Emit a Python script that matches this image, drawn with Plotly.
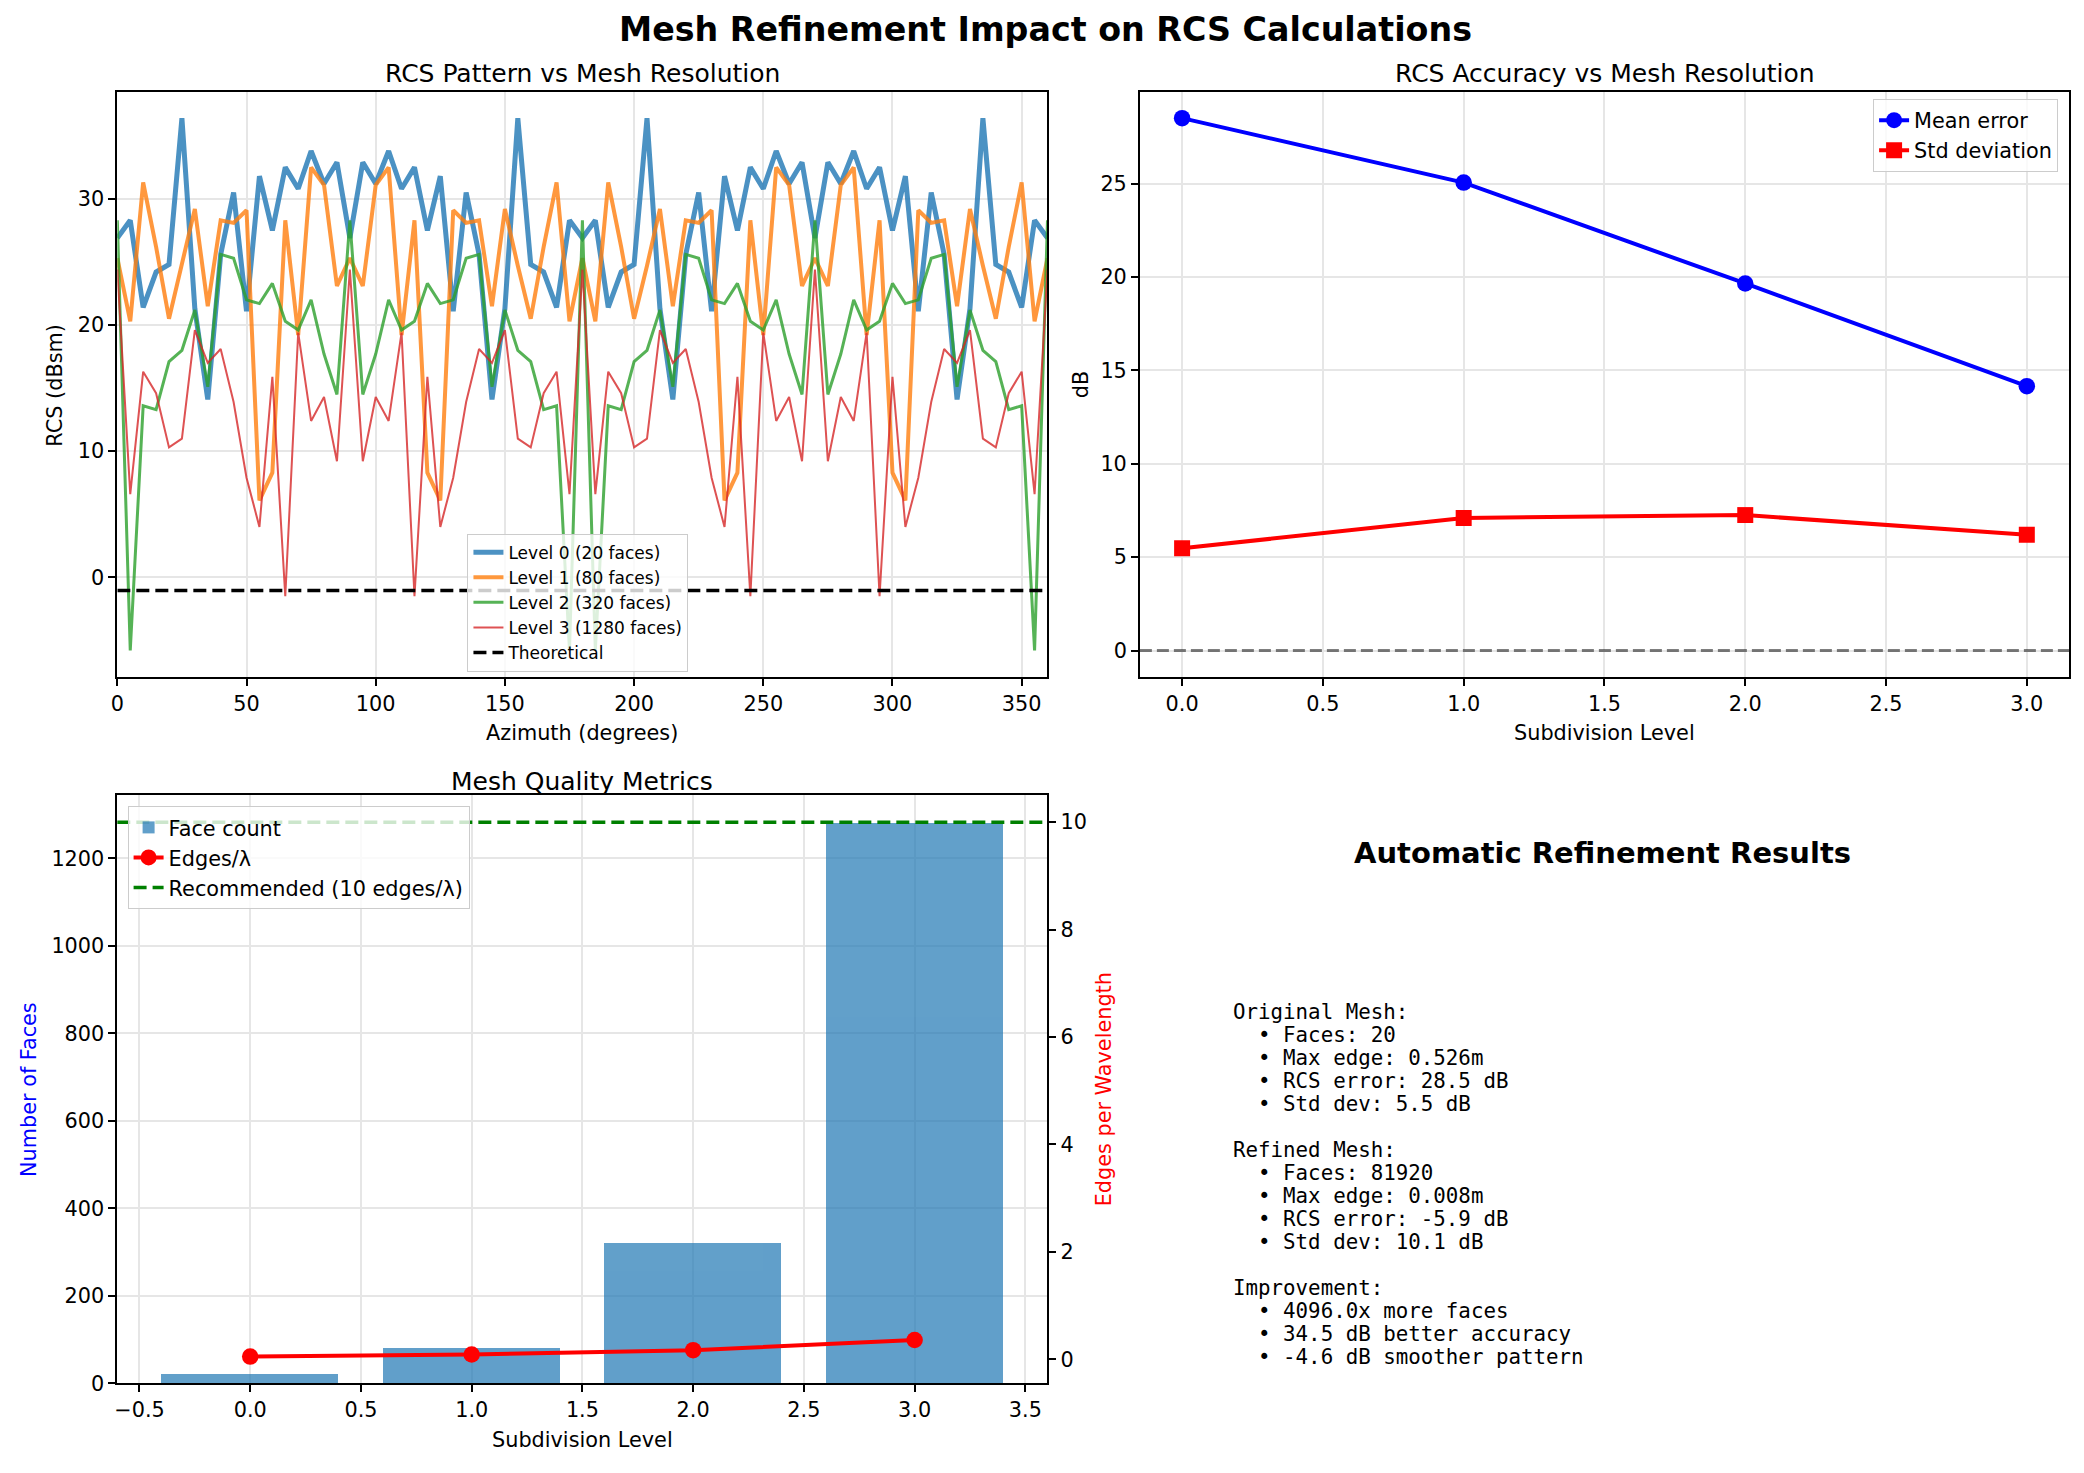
import plotly.graph_objects as go

# ---------------- data ----------------
azimuth = list(range(0, 361, 5))

rcs_level0 = [26.9, 28.3, 21.4, 24.2, 24.8, 36.4, 21.3, 14.1, 25.6, 30.5, 21.1, 31.8, 27.5, 32.5, 30.8, 33.8, 31.2, 32.9, 26.9,
              32.9, 31.2, 33.8, 30.8, 32.5, 27.5, 31.8, 21.1, 30.5, 25.6, 14.1, 21.3, 36.4, 24.8, 24.2, 21.4, 28.3, 26.9,
              28.3, 21.4, 24.2, 24.8, 36.4, 21.3, 14.1, 25.6, 30.5, 21.1, 31.8, 27.5, 32.5, 30.8, 33.8, 31.2, 32.9, 26.9,
              32.9, 31.2, 33.8, 30.8, 32.5, 27.5, 31.8, 21.1, 30.5, 25.6, 14.1, 21.3, 36.4, 24.8, 24.2, 21.4, 28.3, 26.9]
rcs_level1 = [25.3, 20.3, 31.3, 26.2, 20.5, 24.7, 29.2, 21.5, 28.3, 28.1, 29.1, 6.1, 8.3, 28.3, 19.2, 32.5, 31.1, 23.1, 25.3,
              23.1, 31.1, 32.5, 19.2, 28.3, 8.3, 6.1, 29.1, 28.1, 28.3, 21.5, 29.2, 24.7, 20.5, 26.2, 31.3, 20.3, 25.3,
              20.3, 31.3, 26.2, 20.5, 24.7, 29.2, 21.5, 28.3, 28.1, 29.1, 6.1, 8.3, 28.3, 19.2, 32.5, 31.1, 23.1, 25.3,
              23.1, 31.1, 32.5, 19.2, 28.3, 8.3, 6.1, 29.1, 28.1, 28.3, 21.5, 29.2, 24.7, 20.5, 26.2, 31.3, 20.3, 25.3]
rcs_level2 = [28.3, -5.8, 13.6, 13.3, 17.1, 18.0, 21.2, 15.1, 25.6, 25.3, 22.0, 21.7, 23.3, 20.3, 19.6, 22.0, 17.7, 14.5, 28.3,
              14.5, 17.7, 22.0, 19.6, 20.3, 23.3, 21.7, 22.0, 25.3, 25.6, 15.1, 21.2, 18.0, 17.1, 13.3, 13.6, -5.8, 28.3,
              -5.8, 13.6, 13.3, 17.1, 18.0, 21.2, 15.1, 25.6, 25.3, 22.0, 21.7, 23.3, 20.3, 19.6, 22.0, 17.7, 14.5, 28.3,
              14.5, 17.7, 22.0, 19.6, 20.3, 23.3, 21.7, 22.0, 25.3, 25.6, 15.1, 21.2, 18.0, 17.1, 13.3, 13.6, -5.8, 28.3]
rcs_level3 = [24.4, 6.6, 16.3, 14.6, 10.3, 11.0, 19.6, 17.0, 18.1, 13.9, 7.9, 4.0, 15.9, -1.5, 19.4, 12.4, 14.3, 9.2, 24.4,
              9.2, 14.3, 12.4, 19.4, -1.5, 15.9, 4.0, 7.9, 13.9, 18.1, 17.0, 19.6, 11.0, 10.3, 14.6, 16.3, 6.6, 24.4,
              6.6, 16.3, 14.6, 10.3, 11.0, 19.6, 17.0, 18.1, 13.9, 7.9, 4.0, 15.9, -1.5, 19.4, 12.4, 14.3, 9.2, 24.4,
              9.2, 14.3, 12.4, 19.4, -1.5, 15.9, 4.0, 7.9, 13.9, 18.1, 17.0, 19.6, 11.0, 10.3, 14.6, 16.3, 6.6, 24.4]
theoretical_rcs = -1.05
level_names = ["Level 0 (20 faces)", "Level 1 (80 faces)", "Level 2 (320 faces)", "Level 3 (1280 faces)"]

levels = [0, 1, 2, 3]
mean_error = [28.5, 25.05, 19.65, 14.15]
std_dev = [5.47, 7.1, 7.25, 6.2]

face_counts = [20, 80, 320, 1280]
edges_per_wavelength = [0.05, 0.09, 0.17, 0.36]
recommended_edges = 10

summary_title = "Automatic Refinement Results"
summary_lines = [
    "Original Mesh:",
    "  • Faces: 20",
    "  • Max edge: 0.526m",
    "  • RCS error: 28.5 dB",
    "  • Std dev: 5.5 dB",
    "",
    "Refined Mesh:",
    "  • Faces: 81920",
    "  • Max edge: 0.008m",
    "  • RCS error: -5.9 dB",
    "  • Std dev: 10.1 dB",
    "",
    "Improvement:",
    "  • 4096.0x more faces",
    "  • 34.5 dB better accuracy",
    "  • -4.6 dB smoother pattern",
]

# ---------------- styling helpers ----------------
W, H = 2084, 1473
FONT = "DejaVu Sans"
TICK = 20.8


def px(x):
    return x / W


def py(y):
    return 1 - y / H


def axis_style(**kw):
    d = dict(showline=True, linecolor="black", linewidth=1.7, mirror=True,
             ticks="outside", ticklen=7, tickwidth=1.7, tickcolor="black",
             showgrid=True, gridcolor="#e6e6e6", gridwidth=1.6, zeroline=False,
             tickfont=dict(family=FONT, size=TICK, color="black"))
    d.update(kw)
    return d


fig = go.Figure()

# ---- Top-left: RCS patterns ----
colors = ["#1f77b4", "#ff7f0e", "#2ca02c", "#d62728"]
widths = [5, 4, 3, 2]
for vals, name, c, w in zip([rcs_level0, rcs_level1, rcs_level2, rcs_level3], level_names, colors, widths):
    fig.add_trace(go.Scatter(x=azimuth, y=vals, mode="lines", name=name, opacity=0.8,
                             line=dict(color=c, width=w), xaxis="x", yaxis="y", legend="legend"))
fig.add_trace(go.Scatter(x=azimuth, y=[theoretical_rcs] * len(azimuth), mode="lines", name="Theoretical",
                         line=dict(color="black", width=3.5, dash="13px,6px"), xaxis="x", yaxis="y",
                         legend="legend"))

# ---- Top-right: accuracy ----
fig.add_trace(go.Scatter(x=levels, y=mean_error, mode="lines+markers", name="Mean error",
                         line=dict(color="#0000ff", width=4), marker=dict(symbol="circle", size=16.5, color="#0000ff"),
                         xaxis="x2", yaxis="y2", legend="legend2"))
fig.add_trace(go.Scatter(x=levels, y=std_dev, mode="lines+markers", name="Std deviation",
                         line=dict(color="#ff0000", width=4), marker=dict(symbol="square", size=16, color="#ff0000"),
                         xaxis="x2", yaxis="y2", legend="legend2"))

# ---- Bottom-left: mesh quality ----
fig.add_trace(go.Bar(x=levels, y=face_counts, width=0.8, name="Face count",
                     marker=dict(color="#1f77b4", line=dict(width=0)), opacity=0.7,
                     xaxis="x3", yaxis="y3", legend="legend3"))
fig.add_trace(go.Scatter(x=levels, y=edges_per_wavelength, mode="lines+markers", name="Edges/λ",
                         line=dict(color="#ff0000", width=4), marker=dict(size=16.5, color="#ff0000"),
                         xaxis="x3", yaxis="y4", legend="legend3"))
fig.add_trace(go.Scatter(x=[None], y=[None], mode="lines", name="Recommended (10 edges/λ)",
                         line=dict(color="#008000", width=3.5, dash="13px,6px"),
                         xaxis="x3", yaxis="y4", legend="legend3"))

shapes = [
    dict(type="line", xref="x2 domain", yref="y2", x0=0, x1=1, y0=0, y1=0,
         line=dict(color="rgba(0,0,0,0.5)", width=3.2, dash="12px,5px")),
    dict(type="line", xref="x3 domain", yref="y4", x0=0, x1=1, y0=recommended_edges, y1=recommended_edges,
         line=dict(color="#008000", width=3.5, dash="13px,6px")),
]

# ---------------- annotations ----------------
ann = []


def text(x, y, s, size=20.8, color="black", bold=False, angle=0, family=FONT, xanchor="center"):
    ann.append(dict(x=px(x), y=py(y), xref="paper", yref="paper", text=("<b>%s</b>" % s) if bold else s,
                    showarrow=False, textangle=angle, xanchor=xanchor, yanchor="middle",
                    font=dict(family=family, size=size, color=color)))


text(1042, 30, "Mesh Refinement Impact on RCS Calculations", size=33.3, bold=True)
text(577, 74, "RCS Pattern vs Mesh Resolution", size=25)
text(1603, 74, "RCS Accuracy vs Mesh Resolution", size=25)
text(577, 788, "Mesh Quality Metrics", size=25)
text(577, 739, "Azimuth (degrees)")
text(48, 388, "RCS (dBsm)", angle=-90)
text(1603, 739, "Subdivision Level")
text(1077, 388, "dB", angle=-90)
text(577, 1452, "Subdivision Level")
text(22, 1098, "Number of Faces", color="#0000ff", angle=-90)
text(1101, 1098, "Edges per Wavelength", color="#ff0000", angle=-90)
text(1601, 860, summary_title, size=29, bold=True)
for i, line in enumerate(summary_lines):
    if line:
        text(1228, 1020 + 23.2 * i, line.replace(" ", "\u00a0"), size=20.8, family="DejaVu Sans Mono",
             xanchor="left")

legend_common = dict(bgcolor="rgba(255,255,255,0.8)", bordercolor="#cccccc", borderwidth=1,
                     xanchor="left", yanchor="top")

fig.update_layout(
    width=W, height=H, margin=dict(l=0, r=0, t=0, b=0),
    paper_bgcolor="white", plot_bgcolor="white",
    font=dict(family=FONT, size=20.8, color="black"),
    xaxis=axis_style(domain=[px(110.7), px(1044)], anchor="y", range=[0, 360], dtick=50, tick0=0),
    yaxis=axis_style(domain=[py(682.7), py(92.3)], anchor="x", range=[-7.91, 38.51], dtick=10, tick0=0),
    xaxis2=axis_style(domain=[px(1136.7), px(2069)], anchor="y2", range=[-0.15, 3.15], dtick=0.5, tick0=0,
                      tickformat=".1f"),
    yaxis2=axis_style(domain=[py(682.7), py(92.3)], anchor="x2", range=[-1.425, 29.925], dtick=5, tick0=0),
    xaxis3=axis_style(domain=[px(110.7), px(1044)], anchor="y3", range=[-0.6, 3.6], dtick=0.5, tick0=-0.5,
                      tickformat=".1f"),
    yaxis3=axis_style(domain=[py(1394.7), py(802)], anchor="x3", range=[0, 1344], dtick=200, tick0=0),
    yaxis4=axis_style(overlaying="y3", side="right", anchor="x3", range=[-0.4475, 10.4975], dtick=2, tick0=0,
                      showgrid=False, mirror=False),
    legend=dict(**legend_common, x=px(462), y=py(538), font=dict(family=FONT, size=17)),
    legend2=dict(bgcolor="rgba(255,255,255,0.8)", bordercolor="#cccccc", borderwidth=1,
                 xanchor="right", yanchor="top", x=px(2058), y=py(100), font=dict(family=FONT, size=20.8)),
    legend3=dict(**legend_common, x=px(121), y=py(813), font=dict(family=FONT, size=20.8)),
    shapes=shapes,
    annotations=ann,
    bargap=0,
)

fig.write_html("out.html")
